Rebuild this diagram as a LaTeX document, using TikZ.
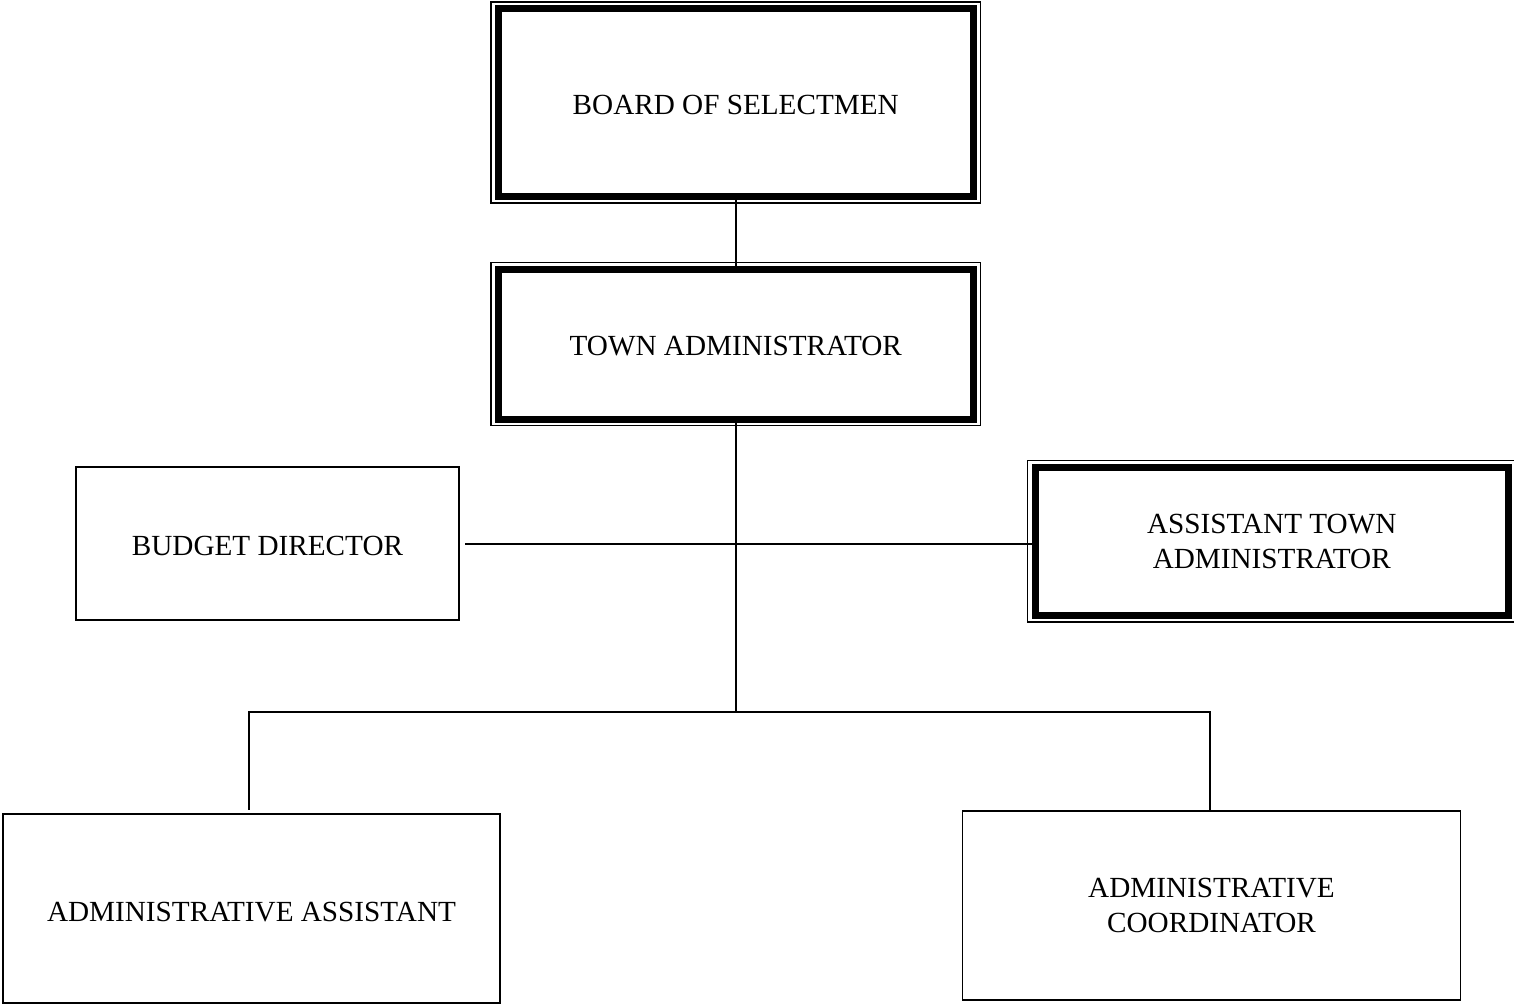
\documentclass[tikz,border=0pt]{standalone}
\usepackage{fontspec}
\setmainfont{Liberation Serif}
\begin{document}
\begin{tikzpicture}[x=1pt,y=-1pt,
  every node/.style={font=\fontsize{29.2}{35}\selectfont, align=center, outer sep=0pt, inner sep=0pt, topstrut=23.5pt},
  topstrut/.style={execute at begin node={\rule{0pt}{#1}}},
  thinbox/.style={draw=black, line width=1.6pt, rectangle},
  heavybox/.style={draw=black, line width=7pt, rectangle},
  rim/.style={draw=black, line width=1.5pt},
  link/.style={draw=black, line width=2pt}]
\useasboundingbox (0,0) rectangle (1514,1005);

% top two offices with heavy double frames
\node[heavybox, minimum width=474.5pt, minimum height=188pt] (bos) at (735.75,102.5) {BOARD OF SELECTMEN};
\node[heavybox, minimum width=474.5pt, minimum height=150pt] (ta) at (735.75,344) {TOWN ADMINISTRATOR};
\node[heavybox, minimum width=473.5pt, minimum height=148.5pt] (ata) at (1271.75,541.25) {ASSISTANT TOWN\\ADMINISTRATOR};
\foreach \n in {bos,ta,ata}
  \draw[rim] ([shift={(-7.5,-6.5)}]\n.north west) rectangle ([shift={(7.5,6.5)}]\n.south east);

% plain offices
\node[thinbox, minimum width=383pt, minimum height=153pt] (bd) at (267.5,543.5) {BUDGET DIRECTOR};
\node[thinbox, minimum width=497pt, minimum height=189pt, topstrut=25.5pt] (aa) at (251.5,908.5) {ADMINISTRATIVE ASSISTANT};
\node[thinbox, minimum width=498pt, minimum height=189pt] (ac) at (1211.5,905.5) {ADMINISTRATIVE\\COORDINATOR};

% connectors
\coordinate (split) at (735.75,712);
\draw[link] (bos.south) -- (ta.north);
\draw[link] (ta.south) -- (split);
\draw[link, shorten <=6pt] (bd.east) -- (bd.east -| ata.west);
\draw[link] (249,712) -- (1210,712);
\draw[link, shorten >=4pt] (split) -| (aa.north -| 249,0);
\draw[link, shorten >=1.5pt] (split) -| (ac.north -| 1210,0);
\end{tikzpicture}
\end{document}
